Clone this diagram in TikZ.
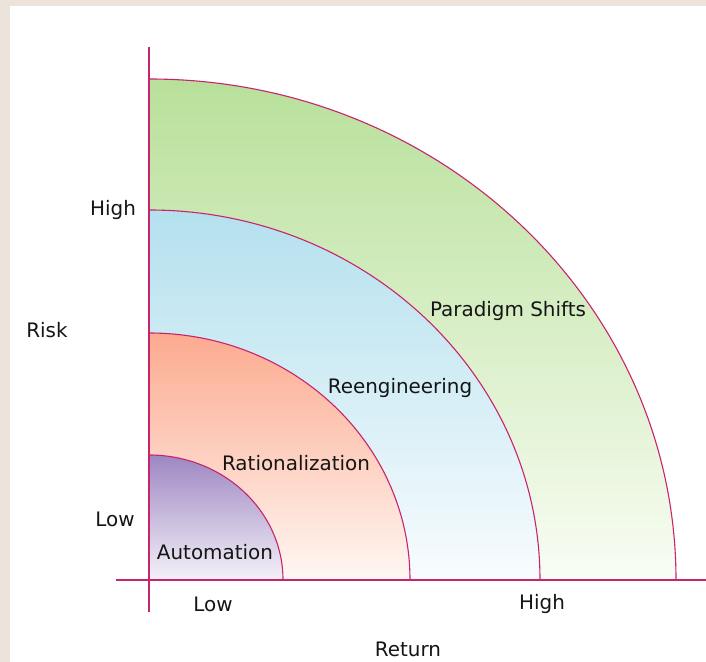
\documentclass[tikz,border=0pt]{standalone}
\usepackage{fontspec}
\setmainfont{DejaVu Sans}
\definecolor{beige}{HTML}{ECE4DA}
\definecolor{edge}{HTML}{C8246E}
\definecolor{txt}{HTML}{151515}
\definecolor{gtop}{HTML}{B8E09A}\definecolor{gbot}{HTML}{F9FDF4}
\definecolor{btop}{HTML}{B4E0EE}\definecolor{bbot}{HTML}{F8FCFE}
\definecolor{stop}{HTML}{FCAA8F}\definecolor{sbot}{HTML}{FFF7F3}
\definecolor{ptop}{HTML}{9E87C2}\definecolor{pbot}{HTML}{F4F1F8}
\begin{document}
\begin{tikzpicture}[x=1bp,y=1bp,
  lbl/.style={font=\fontsize{20}{22}\selectfont, text=txt, inner sep=0pt},
  band/.style={draw=edge, line width=1.1bp},
  axis/.style={draw=edge, line width=1.4bp}]
\useasboundingbox (-149,-82) rectangle (557,580);
\fill[beige] (-149,-82) rectangle (557,580);
\fill[white] (-139,-82) rectangle (557,574);
% quarter ellipses
\shade[band, top color=gtop, bottom color=gbot] (0,0) -- (527,0) arc[start angle=0,end angle=90,x radius=527,y radius=501] -- cycle;
\shade[band, top color=btop, bottom color=bbot] (0,0) -- (391,0) arc[start angle=0,end angle=90,x radius=391,y radius=370] -- cycle;
\shade[band, top color=stop, bottom color=sbot] (0,0) -- (261,0) arc[start angle=0,end angle=90,x radius=261,y radius=247] -- cycle;
\shade[band, top color=ptop, bottom color=pbot] (0,0) -- (134,0) arc[start angle=0,end angle=90,x radius=134,y radius=125] -- cycle;
% axes
\coordinate (xa) at (-33,0); \coordinate (xb) at (557,0);
\coordinate (ya) at (0,-32); \coordinate (yb) at (0,533);
\draw[axis] (xa) -- (xb);
\draw[axis] (ya) -- (yb);
% labels
\node[lbl] (yhigh) at (-36,370) {High};
\node[lbl] (risk) at (-102,250) {Risk};
\node[lbl] (ylow) at (-34,61) {Low};
\node[lbl] (xlow) at (64,-24) {Low};
\node[lbl] (xhigh) at (393,-24) {High};
\node[lbl] (ret) at (259,-69) {Return};
\node[lbl] (auto) at (66,28) {Automation};
\node[lbl] (rat) at (147,117) {Rationalization};
\node[lbl] (reeng) at (251,192) {Reengineering};
\node[lbl] (para) at (359,269) {Paradigm Shifts};
\end{tikzpicture}
\end{document}
